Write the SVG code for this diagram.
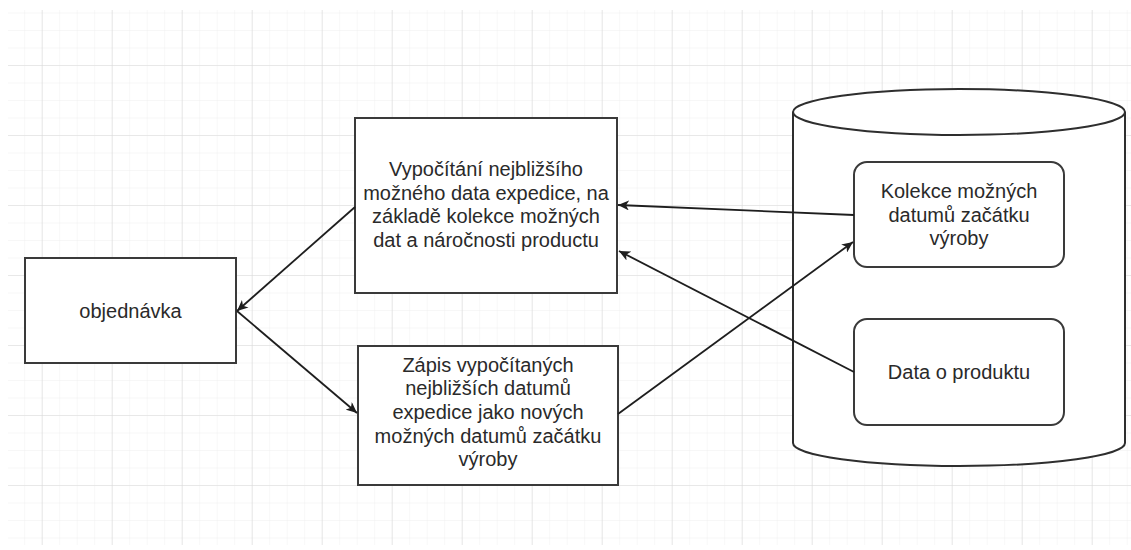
<svg xmlns="http://www.w3.org/2000/svg" width="1131" height="550" viewBox="0 0 1131 550">
  <defs>
    <pattern id="minor" x="24.2" y="12.5" width="17.5" height="17.5" patternUnits="userSpaceOnUse">
      <path d="M0,0 H17.5 M0,0 V17.5" fill="none" stroke="#efefef" stroke-width="1"/>
    </pattern>
    <pattern id="major" x="41.7" y="65" width="70" height="70" patternUnits="userSpaceOnUse">
      <path d="M0,0 H70 M0,0 V70" fill="none" stroke="#dadada" stroke-width="1.2"/>
    </pattern>
    <marker id="arrow" markerWidth="12" markerHeight="10" refX="11" refY="5" orient="auto" markerUnits="userSpaceOnUse">
      <path d="M0,0 L11,5 L0,10 L3,5 Z" fill="#1e1e1e"/>
    </marker>
    <style>
      .box { fill: #ffffff; stroke: #3a3a3a; stroke-width: 2; }
      .cyl { fill: #ffffff; stroke: #2e2e2e; stroke-width: 2; }
      .lbl { font-family: "Liberation Sans", Arial, sans-serif; font-size: 20px; fill: #2a2a2a; text-anchor: middle; }
      .edge { fill: none; stroke: #1e1e1e; stroke-width: 1.8; marker-end: url(#arrow); }
    </style>
  </defs>

  <rect x="0" y="0" width="1131" height="550" fill="#ffffff"/>
  <rect x="8" y="10" width="1123" height="535" fill="url(#minor)"/>
  <rect x="8" y="10" width="1123" height="535" fill="url(#major)"/>

  <g id="database">
    <path class="cyl" d="M793,112 A166,23 0 0 1 1125,112 L1125,443 A166,23 0 0 1 793,443 Z"/>
    <path class="cyl" fill="none" d="M793,112 A166,23 0 0 0 1125,112"/>
  </g>

  <g id="objednavka">
    <rect class="box" x="25" y="258" width="211" height="105"/>
    <text class="lbl" x="130.5" y="318">objednávka</text>
  </g>

  <g id="vypocitani">
    <rect class="box" x="355" y="118" width="262" height="175"/>
    <text class="lbl" x="486" y="176">Vypočítání nejbližšího</text>
    <text class="lbl" x="486" y="199.7">možného data expedice, na</text>
    <text class="lbl" x="486" y="223.4">základě kolekce možných</text>
    <text class="lbl" x="486" y="247.1">dat a náročnosti productu</text>
  </g>

  <g id="zapis">
    <rect class="box" x="358" y="346" width="260" height="139"/>
    <text class="lbl" x="488" y="371.5">Zápis vypočítaných</text>
    <text class="lbl" x="488" y="395.2">nejbližších datumů</text>
    <text class="lbl" x="488" y="418.9">expedice jako nových</text>
    <text class="lbl" x="488" y="442.6">možných datumů začátku</text>
    <text class="lbl" x="488" y="466.3">výroby</text>
  </g>

  <g id="kolekce">
    <rect class="box" x="854" y="162" width="210" height="105" rx="13" ry="13"/>
    <text class="lbl" x="959" y="197.8">Kolekce možných</text>
    <text class="lbl" x="959" y="221.5">datumů začátku</text>
    <text class="lbl" x="959" y="245.2">výroby</text>
  </g>

  <g id="data-o-produktu">
    <rect class="box" x="854" y="319" width="210" height="106" rx="13" ry="13"/>
    <text class="lbl" x="959" y="379">Data o produktu</text>
  </g>

  <g id="connectors">
    <line class="edge" x1="355" y1="207" x2="237" y2="311"/>
    <line class="edge" x1="237" y1="311" x2="357" y2="413"/>
    <line class="edge" x1="854" y1="215" x2="618" y2="205"/>
    <line class="edge" x1="854" y1="372" x2="619" y2="251"/>
    <line class="edge" x1="618" y1="414" x2="853" y2="242"/>
  </g>
</svg>
